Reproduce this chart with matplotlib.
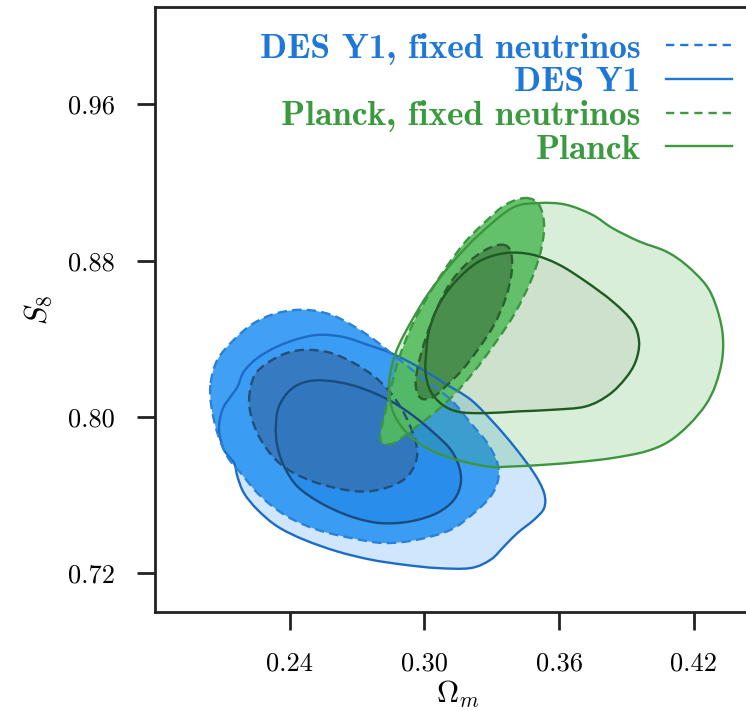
import matplotlib
matplotlib.use('Agg')
import matplotlib.pyplot as plt
from matplotlib.lines import Line2D
from matplotlib.path import Path
from matplotlib.patches import PathPatch
import numpy as np

plt.rcParams['mathtext.fontset'] = 'cm'
plt.rcParams['font.family'] = 'serif'
plt.rcParams['font.serif'] = ['cmr10']
plt.rcParams['axes.formatter.use_mathtext'] = True

# ---------------- data (Omega_m, S8) contour outlines ----------------
# DES Y1 (free neutrinos): outer (95%) and inner (68%) contours
des_out_x = [0.2100, 0.2137, 0.2167, 0.2196, 0.2256, 0.2345, 0.2449, 0.2538, 0.2642, 0.2746,
             0.2850, 0.2968, 0.3087, 0.3206, 0.3310, 0.3399, 0.3488, 0.3533, 0.3533, 0.3488,
             0.3414, 0.3355, 0.3295, 0.3206, 0.3057, 0.2909, 0.2761, 0.2612, 0.2464, 0.2345,
             0.2256, 0.2196, 0.2167, 0.2152, 0.2107, 0.2085]
des_out_y = [0.8037, 0.8105, 0.8154, 0.8233, 0.8302, 0.8361, 0.8404, 0.8421, 0.8409, 0.8370,
             0.8328, 0.8259, 0.8174, 0.8089, 0.7969, 0.7850, 0.7713, 0.7611, 0.7534, 0.7474,
             0.7406, 0.7338, 0.7270, 0.7227, 0.7227, 0.7244, 0.7270, 0.7312, 0.7372, 0.7440,
             0.7526, 0.7611, 0.7696, 0.7765, 0.7833, 0.7935]
des_in_x = [0.2338, 0.2352, 0.2404, 0.2478, 0.2567, 0.2672, 0.2776, 0.2865, 0.2954, 0.3043,
            0.3117, 0.3154, 0.3162, 0.3132, 0.3057, 0.2939, 0.2805, 0.2672, 0.2538, 0.2434,
            0.2375, 0.2345]
des_in_y = [0.7952, 0.8054, 0.8140, 0.8182, 0.8186, 0.8165, 0.8123, 0.8072, 0.8003, 0.7918,
            0.7833, 0.7747, 0.7662, 0.7577, 0.7509, 0.7466, 0.7457, 0.7491, 0.7560, 0.7645,
            0.7747, 0.7850]

# DES Y1, fixed neutrinos
desfix_out_x = [0.2048, 0.2078, 0.2152, 0.2241, 0.2345, 0.2464, 0.2583, 0.2686, 0.2776, 0.2850,
                0.2983, 0.3117, 0.3206, 0.3280, 0.3325, 0.3328, 0.3295, 0.3221, 0.3117, 0.2968,
                0.2820, 0.2672, 0.2523, 0.2389, 0.2271, 0.2182, 0.2122, 0.2078, 0.2051]
desfix_out_y = [0.8174, 0.8293, 0.8396, 0.8481, 0.8532, 0.8549, 0.8524, 0.8464, 0.8396, 0.8328,
                0.8208, 0.8089, 0.7969, 0.7867, 0.7765, 0.7679, 0.7594, 0.7509, 0.7423, 0.7372,
                0.7355, 0.7381, 0.7423, 0.7491, 0.7594, 0.7713, 0.7798, 0.7918, 0.8054]
desfix_in_x = [0.2219, 0.2241, 0.2300, 0.2389, 0.2478, 0.2583, 0.2686, 0.2776, 0.2850, 0.2909,
               0.2954, 0.2968, 0.2954, 0.2917, 0.2850, 0.2746, 0.2642, 0.2523, 0.2419, 0.2338,
               0.2271, 0.2233]
desfix_in_y = [0.8089, 0.8208, 0.8276, 0.8328, 0.8344, 0.8328, 0.8276, 0.8208, 0.8123, 0.8020,
               0.7901, 0.7816, 0.7747, 0.7688, 0.7645, 0.7619, 0.7628, 0.7662, 0.7713, 0.7781,
               0.7884, 0.7986]

# Planck (free neutrinos)
planck_out_x = [0.2857, 0.2842, 0.2856, 0.2887, 0.2946, 0.3020, 0.3124, 0.3243, 0.3391, 0.3510,
                0.3629, 0.3748, 0.3837, 0.3956, 0.4075, 0.4164, 0.4253, 0.4297, 0.4327, 0.4327,
                0.4297, 0.4253, 0.4179, 0.4089, 0.3986, 0.3837, 0.3689, 0.3540, 0.3391, 0.3280,
                0.3117, 0.2998, 0.2909]
planck_out_y = [0.8037, 0.8157, 0.8268, 0.8370, 0.8498, 0.8636, 0.8790, 0.8933, 0.9070, 0.9095,
                0.9087, 0.9035, 0.8967, 0.8899, 0.8848, 0.8780, 0.8677, 0.8575, 0.8438, 0.8302,
                0.8165, 0.8063, 0.7961, 0.7875, 0.7824, 0.7790, 0.7770, 0.7756, 0.7747, 0.7747,
                0.7790, 0.7850, 0.7935]
planck_in_x = [0.3006, 0.3020, 0.3065, 0.3139, 0.3243, 0.3362, 0.3481, 0.3599, 0.3718, 0.3837,
               0.3926, 0.3956, 0.3941, 0.3897, 0.3822, 0.3718, 0.3570, 0.3421, 0.3273, 0.3154,
               0.3080, 0.3028, 0.3006]
planck_in_y = [0.8302, 0.8438, 0.8575, 0.8694, 0.8796, 0.8839, 0.8831, 0.8780, 0.8694, 0.8592,
               0.8489, 0.8387, 0.8285, 0.8200, 0.8114, 0.8054, 0.8037, 0.8029, 0.8020, 0.8026,
               0.8063, 0.8131, 0.8217]

# Planck, fixed neutrinos
planckfix_out_x = [0.3451, 0.3510, 0.3533, 0.3518, 0.3473, 0.3399, 0.3310, 0.3221, 0.3132, 0.3043,
                   0.2946, 0.2865, 0.2812, 0.2805, 0.2828, 0.2857, 0.2887, 0.2946, 0.3020, 0.3095,
                   0.3184, 0.3273, 0.3362]
planckfix_out_y = [0.9121, 0.9087, 0.8984, 0.8848, 0.8694, 0.8524, 0.8370, 0.8233, 0.8114, 0.8020,
                   0.7935, 0.7867, 0.7867, 0.7918, 0.8037, 0.8174, 0.8302, 0.8472, 0.8626, 0.8763,
                   0.8899, 0.9001, 0.9087]
planckfix_in_x = [0.3347, 0.3384, 0.3389, 0.3362, 0.3310, 0.3243, 0.3169, 0.3095, 0.3035, 0.2983,
                  0.2961, 0.2973, 0.3006, 0.3050, 0.3110, 0.3184, 0.3273]
planckfix_in_y = [0.8882, 0.8848, 0.8745, 0.8609, 0.8472, 0.8353, 0.8242, 0.8157, 0.8100, 0.8097,
                  0.8165, 0.8268, 0.8404, 0.8540, 0.8677, 0.8780, 0.8856]

legend_labels = ['DES Y1, fixed neutrinos', 'DES Y1', 'Planck, fixed neutrinos', 'Planck']
x_ticks = [0.24, 0.30, 0.36, 0.42]
x_ticklabels = ['0.24', '0.30', '0.36', '0.42']
y_ticks = [0.72, 0.80, 0.88, 0.96]
y_ticklabels = ['0.72', '0.80', '0.88', '0.96']

# ---------------- styling ----------------
DES_C = '#1f77d6'
PL_C = '#3b9a3f'
dash = (0, (4, 2.2))

fig = plt.figure(figsize=(7.46, 7.11), dpi=100)
ax = fig.add_axes([155 / 746, (711 - 612.4) / 711, 606.2 / 746, 605.7 / 711])


def smooth_path(xs, ys):
    """Closed smooth Bezier path passing through the traced contour vertices."""
    p = np.column_stack([xs, ys])
    n = len(p)
    verts = [p[0]]
    codes = [Path.MOVETO]
    for i in range(n):
        p0, p1, p2, p3 = p[i - 1], p[i], p[(i + 1) % n], p[(i + 2) % n]
        c1 = p1 + (p2 - p0) / 6.0
        c2 = p2 - (p3 - p1) / 6.0
        verts += [c1, c2, p2]
        codes += [Path.CURVE4] * 3
    verts.append(p[0])
    codes.append(Path.CLOSEPOLY)
    return Path(verts, codes)


def fill(xs, ys, fc, alpha, z):
    ax.add_patch(PathPatch(smooth_path(xs, ys), facecolor=fc, edgecolor='none',
                           alpha=alpha, zorder=z))


def outline(xs, ys, c, ls, z, lw=1.7):
    ax.add_patch(PathPatch(smooth_path(xs, ys), facecolor='none', edgecolor=c,
                           linestyle=ls, lw=lw, zorder=z, joinstyle='round'))


# fills
fill(des_out_x, des_out_y, '#d0e6fc', 1.0, 1.0)
fill(des_in_x, des_in_y, '#5a88c0', 1.0, 1.1)
fill(desfix_out_x, desfix_out_y, (33 / 255, 143 / 255, 243 / 255), 0.85, 2.0)
fill(desfix_in_x, desfix_in_y, (52 / 255, 110 / 255, 172 / 255), 0.7, 2.1)
fill(planck_out_x, planck_out_y, (60 / 255, 170 / 255, 60 / 255), 0.2, 3.0)
fill(planck_in_x, planck_in_y, (110 / 255, 120 / 255, 110 / 255), 0.1, 3.1)
fill(planckfix_out_x, planckfix_out_y, (85 / 255, 189 / 255, 94 / 255), 0.9, 4.0)
fill(planckfix_in_x, planckfix_in_y, (60 / 255, 110 / 255, 60 / 255), 0.6, 4.1)

# lines
outline(des_out_x, des_out_y, '#1c6cc6', '-', 5)
outline(des_in_x, des_in_y, '#1b4b7e', '-', 5)
outline(desfix_out_x, desfix_out_y, '#2a82d8', dash, 5)
outline(desfix_in_x, desfix_in_y, '#234e78', dash, 5)
outline(planck_out_x, planck_out_y, '#3d963f', '-', 6)
outline(planck_in_x, planck_in_y, '#1f5a22', '-', 6)
outline(planckfix_out_x, planckfix_out_y, '#3d963f', dash, 6)
outline(planckfix_in_x, planckfix_in_y, '#2a5e2c', dash, 6)

ax.set_xlim(0.18, 0.45)
ax.set_ylim(0.70, 1.01)
ax.set_xticks(x_ticks)
ax.set_xticklabels(x_ticklabels)
ax.set_yticks(y_ticks)
ax.set_yticklabels(y_ticklabels)
ax.tick_params(direction='out', length=13, width=2.0, labelsize=19, color='#222222')
ax.tick_params(axis='x', pad=15)
ax.tick_params(axis='y', pad=16)
for s in ax.spines.values():
    s.set_linewidth(2.0)
    s.set_color('#222222')

ax.set_xlabel(r'$\Omega_m$', fontsize=22, labelpad=3)
ax.set_ylabel(r'$S_8$', fontsize=22, labelpad=10)

handles = [Line2D([], [], color=DES_C, ls=(0, (3.5, 2.5)), lw=1.7),
           Line2D([], [], color=DES_C, ls='-', lw=1.7),
           Line2D([], [], color=PL_C, ls=(0, (3.5, 2.5)), lw=1.7),
           Line2D([], [], color=PL_C, ls='-', lw=1.7)]
leg = ax.legend(handles, legend_labels, loc='upper right', bbox_to_anchor=(0.952, 0.957),
                frameon=False, markerfirst=False, borderpad=0, borderaxespad=0,
                handlelength=1.86, handletextpad=0.72, labelspacing=0.05,
                prop={'family': 'cmb10', 'size': 25.5})
for t, c in zip(leg.get_texts(), [DES_C, DES_C, PL_C, PL_C]):
    t.set_color(c)

fig.savefig('out.png', dpi=100)
